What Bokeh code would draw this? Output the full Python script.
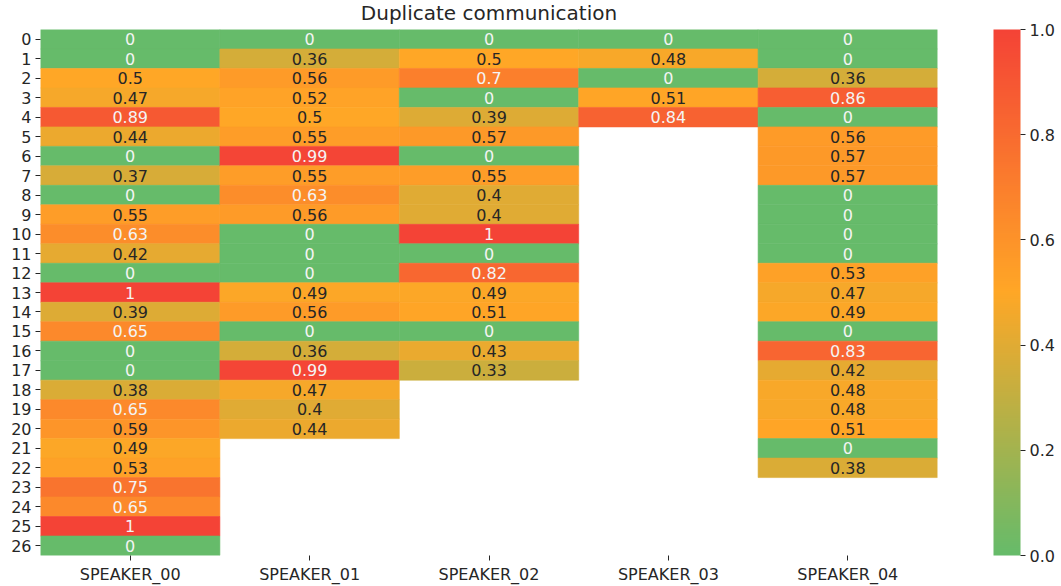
import numpy as np
from bokeh.plotting import figure
from bokeh.models import (ColumnDataSource, LinearColorMapper, ColorBar, FixedTicker,
                          PrintfTickFormatter)
from bokeh.embed import file_html
from bokeh.resources import INLINE

speakers = ["SPEAKER_00", "SPEAKER_01", "SPEAKER_02", "SPEAKER_03", "SPEAKER_04"]
rows = [str(i) for i in range(27)]

speaker_00 = [0, 0, 0.5, 0.47, 0.89, 0.44, 0, 0.37, 0, 0.55, 0.63, 0.42, 0, 1, 0.39, 0.65, 0, 0,
              0.38, 0.65, 0.59, 0.49, 0.53, 0.75, 0.65, 1, 0]
speaker_01 = [0, 0.36, 0.56, 0.52, 0.5, 0.55, 0.99, 0.55, 0.63, 0.56, 0, 0, 0, 0.49, 0.56, 0, 0.36,
              0.99, 0.47, 0.4, 0.44]
speaker_02 = [0, 0.5, 0.7, 0, 0.39, 0.57, 0, 0.55, 0.4, 0.4, 1, 0, 0.82, 0.49, 0.51, 0, 0.43, 0.33]
speaker_03 = [0, 0.48, 0, 0.51, 0.84]
speaker_04 = [0, 0, 0.36, 0.86, 0, 0.56, 0.57, 0.57, 0, 0, 0, 0, 0.53, 0.47, 0.49, 0, 0.83, 0.42,
              0.48, 0.48, 0.51, 0, 0.38]
series = [speaker_00, speaker_01, speaker_02, speaker_03, speaker_04]

colorbar_ticks = [0.0, 0.2, 0.4, 0.6, 0.8, 1.0]
title_text = "Duplicate communication"

# colormap: green -> orange -> red
anchors = [(0.0, (102, 187, 106)), (0.5, (255, 167, 38)), (1.0, (244, 67, 54))]


def cmap(v):
    for (t0, c0), (t1, c1) in zip(anchors[:-1], anchors[1:]):
        if v <= t1:
            f = (v - t0) / (t1 - t0)
            return tuple(c0[k] + (c1[k] - c0[k]) * f for k in range(3))
    return anchors[-1][1]


palette = ["#%02x%02x%02x" % tuple(int(round(c)) for c in cmap(i / 255)) for i in range(256)]


def lum(rgb):
    lin = []
    for c in rgb:
        c = c / 255
        lin.append(c / 12.92 if c <= 0.03928 else ((c + 0.055) / 1.055) ** 2.4)
    return 0.2126 * lin[0] + 0.7152 * lin[1] + 0.0722 * lin[2]


xs, ys, vals, labels, tcolors = [], [], [], [], []
for sp, data in zip(speakers, series):
    for i, v in enumerate(data):
        xs.append(sp)
        ys.append(rows[i])
        vals.append(v)
        labels.append(f"{v:.2g}")
        idx = int(round(v * 255))
        rgb = cmap(idx / 255)
        tcolors.append("#262626" if lum(rgb) > 0.408 else "#f4f4f4")

src = ColumnDataSource(dict(x=xs, y=ys, v=vals, label=labels, tc=tcolors))

mapper = LinearColorMapper(palette=palette, low=0, high=1)

FW, FH = 897, 526
p = figure(x_range=speakers, y_range=list(reversed(rows)),
           frame_width=FW, frame_height=FH, title=title_text,
           min_border_left=40, min_border_top=0, min_border_bottom=0, min_border_right=121,
           output_backend="svg", toolbar_location=None,
           styles={"margin-top": "-7px"})

p.rect(x="x", y="y", width=1, height=1, source=src,
       fill_color={"field": "v", "transform": mapper},
       line_color={"field": "v", "transform": mapper}, line_width=0.6)
p.text(x="x", y="y", text="label", source=src, text_color="tc",
       text_align="center", text_baseline="middle", text_font_size="16px",
       text_font={"value": "DejaVu Sans"})

p.title.align = "center"
p.title.text_font = "DejaVu Sans"
p.title.text_font_size = "20px"
p.title.text_font_style = "normal"
p.title.text_color = "#262626"
p.title.standoff = 10

for ax in (p.xaxis[0], p.yaxis[0]):
    ax.axis_line_color = None
    ax.major_tick_in = 0
    ax.major_tick_out = 5
    ax.minor_tick_line_color = None
    ax.major_tick_line_color = "#262626"
    ax.major_label_text_font = "DejaVu Sans"
    ax.major_label_text_font_size = "16px"
    ax.major_label_text_color = "#262626"
    ax.major_label_standoff = 4

p.xgrid.grid_line_color = None
p.ygrid.grid_line_color = None
p.outline_line_color = None

cb = ColorBar(color_mapper=mapper, ticker=FixedTicker(ticks=colorbar_ticks),
              formatter=PrintfTickFormatter(format="%.1f"),
              width=27, height=FH, padding=0, margin=0, location=(FW + 56, 0),
              major_tick_in=0, major_tick_out=5, major_tick_line_color="#262626",
              minor_tick_line_color=None, bar_line_color=None,
              major_label_text_font="DejaVu Sans", major_label_text_font_size="16px",
              major_label_text_color="#262626", label_standoff=4,
              background_fill_color=None, border_line_color=None)
p.add_layout(cb, "center")

open("out.html", "w").write(file_html(p, INLINE))
